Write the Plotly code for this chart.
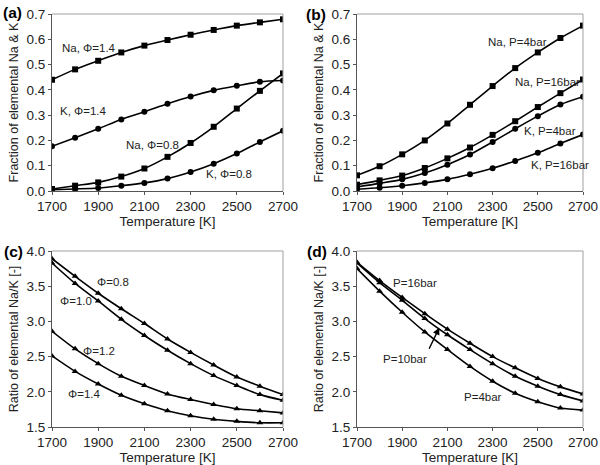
import plotly.graph_objects as go

FONT = "Liberation Sans, Arial, sans-serif"
FRAME_GREY = "#a0a0a0"

temps = [1700, 1800, 1900, 2000, 2100, 2200, 2300, 2400, 2500, 2600, 2700]

# (a) fraction vs temperature, different equivalence ratios
na_phi14 = [0.44, 0.481, 0.515, 0.548, 0.575, 0.597, 0.618, 0.637, 0.654, 0.667, 0.679]
k_phi14 = [0.177, 0.211, 0.246, 0.283, 0.313, 0.345, 0.374, 0.398, 0.416, 0.432, 0.437]
na_phi08 = [0.008, 0.021, 0.034, 0.057, 0.089, 0.135, 0.19, 0.254, 0.326, 0.396, 0.465]
k_phi08 = [0.005, 0.008, 0.012, 0.021, 0.032, 0.049, 0.075, 0.108, 0.148, 0.194, 0.238]

# (b) fraction vs temperature, different pressures
na_p4 = [0.062, 0.098, 0.145, 0.2, 0.267, 0.341, 0.415, 0.486, 0.548, 0.605, 0.654]
na_p16 = [0.025, 0.042, 0.061, 0.091, 0.129, 0.172, 0.222, 0.276, 0.332, 0.387, 0.441]
k_p4 = [0.016, 0.03, 0.046, 0.071, 0.104, 0.144, 0.194, 0.246, 0.296, 0.342, 0.373]
k_p16 = [0.007, 0.013, 0.021, 0.032, 0.046, 0.066, 0.09, 0.119, 0.151, 0.188, 0.223]

# (c) Na/K ratio, different equivalence ratios
ratio_phi08 = [3.89, 3.64, 3.40, 3.18, 2.97, 2.75, 2.56, 2.38, 2.21, 2.08, 1.96]
ratio_phi10 = [3.83, 3.54, 3.29, 3.03, 2.80, 2.59, 2.40, 2.23, 2.09, 1.96, 1.88]
ratio_phi12 = [2.86, 2.61, 2.40, 2.22, 2.09, 1.97, 1.89, 1.82, 1.76, 1.73, 1.70]
ratio_phi14 = [2.51, 2.29, 2.11, 1.95, 1.83, 1.73, 1.66, 1.61, 1.58, 1.56, 1.56]

# (d) Na/K ratio, different pressures
ratio_p16 = [3.84, 3.58, 3.34, 3.11, 2.89, 2.69, 2.50, 2.34, 2.19, 2.07, 1.97]
ratio_p10 = [3.83, 3.55, 3.30, 3.04, 2.81, 2.60, 2.40, 2.22, 2.08, 1.96, 1.87]
ratio_p4 = [3.75, 3.43, 3.13, 2.85, 2.60, 2.36, 2.15, 1.98, 1.86, 1.77, 1.74]

x_ticks = [1700, 1900, 2100, 2300, 2500, 2700]


def line(y, symbol, xa, ya):
    return go.Scatter(
        x=temps,
        y=y,
        mode="lines+markers",
        line=dict(color="black", width=1.6, shape="spline", smoothing=0.8),
        marker=dict(symbol=symbol, size=6, color="black"),
        xaxis=xa,
        yaxis=ya,
        showlegend=False,
        hoverinfo="x+y",
    )


fig = go.Figure()

for y, sym in [(na_phi14, "square"), (k_phi14, "circle"), (na_phi08, "square"), (k_phi08, "circle")]:
    fig.add_trace(line(y, sym, "x", "y"))
for y, sym in [(na_p4, "square"), (na_p16, "square"), (k_p4, "circle"), (k_p16, "circle")]:
    fig.add_trace(line(y, sym, "x2", "y2"))
for y in [ratio_phi08, ratio_phi10, ratio_phi12, ratio_phi14]:
    fig.add_trace(line(y, "triangle-up", "x3", "y3"))
for y in [ratio_p16, ratio_p10, ratio_p4]:
    fig.add_trace(line(y, "triangle-up", "x4", "y4"))


def xaxis(domain, anchor):
    return dict(
        domain=domain,
        anchor=anchor,
        range=[1700, 2700],
        tickvals=x_ticks,
        ticks="outside",
        ticklen=3,
        tickcolor="#555",
        showgrid=False,
        zeroline=False,
        showline=True,
        linecolor="#555",
        linewidth=1,
        automargin=False,
        tickfont=dict(size=13.5, color="#222"),
        title=dict(text="Temperature [K]", font=dict(size=13.5, color="#222"), standoff=3),
    )


def yaxis(domain, anchor, rng, dtick, title):
    return dict(
        domain=domain,
        anchor=anchor,
        range=rng,
        dtick=dtick,
        tick0=rng[0],
        tickformat=".1f",
        ticks="outside",
        ticklen=3,
        tickcolor="#555",
        showgrid=False,
        zeroline=False,
        showline=True,
        linecolor="#555",
        linewidth=1,
        automargin=False,
        tickfont=dict(size=13.5, color="#222"),
        title=dict(text=title, font=dict(size=12.5, color="#222"), standoff=5),
    )


left = [52 / 600, 283 / 600]
right = [357 / 600, 583 / 600]
top = [1 - 191 / 465, 1 - 14 / 465]
bottom = [1 - 427 / 465, 1 - 251 / 465]

frac_title = "Fraction of elemental Na & K"
ratio_title = "Ratio of elemental Na/K [-]"

annotations = []


def note(text, x, y, xref, yref, size=11.5):
    annotations.append(
        dict(text=text, x=x, y=y, xref=xref, yref=yref, showarrow=False,
             font=dict(size=size, color="#222", family=FONT))
    )


note("Na, Φ=1.4", 1861, 0.565, "x", "y")
note("K, Φ=1.4", 1837, 0.316, "x", "y")
note("Na, Φ=0.8", 2133, 0.182, "x", "y")
note("K, Φ=0.8", 2465, 0.067, "x", "y")

note("Na, P=4bar", 2411, 0.589, "x2", "y2")
note("Na, P=16bar", 2544, 0.431, "x2", "y2")
note("K, P=4bar", 2556, 0.237, "x2", "y2")
note("K, P=16bar", 2596, 0.103, "x2", "y2")

note("Φ=0.8", 1963, 3.56, "x3", "y3")
note("Φ=1.0", 1804, 3.29, "x3", "y3")
note("Φ=1.2", 1904, 2.58, "x3", "y3")
note("Φ=1.4", 1839, 1.97, "x3", "y3")

note("P=16bar", 1956, 3.54, "x4", "y4")
note("P=10bar", 1913, 2.47, "x4", "y4")
note("P=4bar", 2258, 1.93, "x4", "y4")

# arrow pointing at the P=10bar curve
annotations.append(
    dict(x=2064, y=2.91, ax=2016, ay=2.59, xref="x4", yref="y4", axref="x4", ayref="y4",
         text="", showarrow=True, arrowhead=2, arrowsize=1, arrowwidth=1.4, arrowcolor="black")
)

# panel labels
for label, px, py in [("(a)", 1, 13), ("(b)", 304, 15), ("(c)", 2, 251), ("(d)", 305, 251)]:
    annotations.append(
        dict(text=f"<b>{label}</b>", x=px / 600, y=1 - py / 465, xref="paper", yref="paper",
             xanchor="left", yanchor="middle", showarrow=False,
             font=dict(size=15.5, color="black", family=FONT))
    )

# light grey top/right frame
shapes = []
for xd, yd in [(left, top), (right, top), (left, bottom), (right, bottom)]:
    shapes.append(dict(type="line", xref="paper", yref="paper", x0=xd[0], x1=xd[1], y0=yd[1], y1=yd[1],
                       line=dict(color=FRAME_GREY, width=1)))
    shapes.append(dict(type="line", xref="paper", yref="paper", x0=xd[1], x1=xd[1], y0=yd[0], y1=yd[1],
                       line=dict(color=FRAME_GREY, width=1)))

fig.update_layout(
    width=600,
    height=465,
    margin=dict(l=0, r=0, t=0, b=0),
    paper_bgcolor="white",
    plot_bgcolor="white",
    font=dict(family=FONT, color="#222"),
    xaxis=xaxis(left, "y"),
    yaxis=yaxis(top, "x", [0, 0.7], 0.1, frac_title),
    xaxis2=xaxis(right, "y2"),
    yaxis2=yaxis(top, "x2", [0, 0.7], 0.1, frac_title),
    xaxis3=xaxis(left, "y3"),
    yaxis3=yaxis(bottom, "x3", [1.5, 4.0], 0.5, ratio_title),
    xaxis4=xaxis(right, "y4"),
    yaxis4=yaxis(bottom, "x4", [1.5, 4.0], 0.5, ratio_title),
    annotations=annotations,
    shapes=shapes,
)

# drop the default page margin so the 600x465 figure fills the window
fig.write_html(
    "out.html",
    config={"displayModeBar": False},
    post_script="document.body.style.margin='0';",
)
